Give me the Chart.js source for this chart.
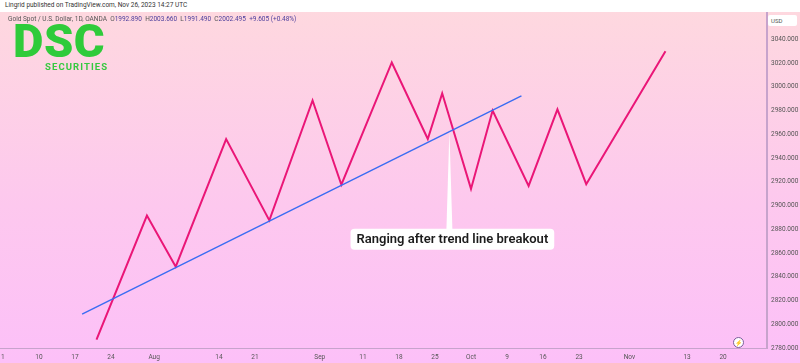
<!DOCTYPE html>
<html>
<head>
  <title>Gold Spot / U.S. Dollar</title>
  <script src="https://cdn.jsdelivr.net/npm/chart.js"></script>
  <style>
    body {
      margin: 0;
      width: 800px;
      height: 363px;
      overflow: hidden;
      background: #fff;
      font-family: Roboto, "Noto Sans", sans-serif;
    }
    #published {
      position: absolute;
      left: 5px;
      top: 1px;
      font-size: 6.5px;
      color: #333;
    }
    .pane {
      position: absolute;
      left: 0;
      top: 12px;
      width: 800px;
      height: 351px;
      background: linear-gradient(to bottom, #fed8df 0%, #fdc8ee 55%, #fcc0f8 100%);
    }
    #chartBox {
      position: absolute;
      left: 0;
      top: 0;
      width: 800px;
      height: 351px;
    }
    #legend {
      position: absolute;
      left: 8px;
      top: 3px;
      font-size: 6.5px;
      color: #555;
      white-space: nowrap;
    }
    #legend b { font-weight: normal; color: #4b3d9c; }
    #logo {
      position: absolute;
      left: 13px;
      top: 5px;
      color: #2fcb3a;
      font-weight: 900;
      font-size: 47px;
      letter-spacing: 0.5px;
      line-height: 47px;
      font-family: Roboto, sans-serif;
    }
    #logoSub {
      position: absolute;
      left: 45px;
      top: 49px;
      color: #36c93f;
      font-weight: 700;
      font-size: 9.5px;
      letter-spacing: 1.1px;
      font-family: Roboto, sans-serif;
    }
    #usd {
      position: absolute;
      left: 768px;
      top: 3px;
      width: 29px;
      height: 11px;
      background: #fff;
      border-radius: 2px;
      font-size: 6px;
      color: #555;
      line-height: 11px;
      padding-left: 3px;
      box-sizing: border-box;
    }
    #icon {
      position: absolute;
      left: 733px;
      top: 325px;
      width: 9px;
      height: 9px;
      border: 1px solid #7a5c9a;
      border-radius: 50%;
      background: #fff;
      font-size: 6px;
      line-height: 9px;
      text-align: center;
      color: #6a4c8a;
    }
  </style>
</head>
<body>
  <div id="published">Lingrid published on TradingView.com, Nov 26, 2023 14:27 UTC</div>
  <div class="pane">
    <div id="chartBox"><canvas id="goldChart" width="800" height="351"></canvas></div>
    <div id="legend">Gold Spot / U.S. Dollar, 1D, OANDA &nbsp;O<b>1992.890</b> &nbsp;H<b>2003.660</b> &nbsp;L<b>1991.490</b> &nbsp;C<b>2002.495</b> &nbsp;<b>+9.605 (+0.48%)</b></div>
    <div id="logo">DSC</div>
    <div id="logoSub">SECURITIES</div>
    <div id="usd">USD</div>
    <div id="icon">&#x26A1;</div>
  </div>

  <script>
    // x values are trading-day indexes counted from Mon 3 Jul
    const swingDays   = [13, 20, 24, 31, 37, 43, 47, 54, 59, 61, 65, 68, 73, 77, 81, 92];
    const swingPrices = [2787, 2891.5, 2848.5, 2956, 2887.5, 2988.5, 2917.5, 3020.5, 2956, 2994.5, 2914, 2980, 2916.5, 2981, 2918, 3030];

    const trendDays   = [11, 72];
    const trendPrices = [2808.5, 2992.3];

    const tickDays   = [0, 5, 10, 15, 21, 30, 35, 44, 50, 55, 60, 65, 70, 75, 80, 87, 95, 100];
    const tickLabels = ['1', '10', '17', '24', 'Aug', '14', '21', 'Sep', '11', '18', '25', 'Oct', '9', '16', '23', 'Nov', '13', '20'];

    const priceTicks = [3040, 3020, 3000, 2980, 2960, 2940, 2920, 2900, 2880, 2860, 2840, 2820, 2800, 2780];

    const calloutText  = 'Ranging after trend line breakout';
    const calloutTip   = { day: 62, price: 2963 };
    const calloutPrice = 2871.5;

    // white speech-bubble label pointing at the trend line break
    const calloutPlugin = {
      id: 'callout',
      afterDatasetsDraw(chart) {
        const { ctx, scales } = chart;
        const tipX = scales.x.getPixelForValue(calloutTip.day);
        const tipY = scales.y.getPixelForValue(calloutTip.price);
        const midY = scales.y.getPixelForValue(calloutPrice);
        ctx.save();
        ctx.font = '600 13px Roboto, sans-serif';
        const w = ctx.measureText(calloutText).width + 12;
        const h = 21;
        const left = tipX + 3 - w / 2;
        const top = midY - h / 2;
        ctx.fillStyle = '#ffffff';
        ctx.beginPath();
        ctx.moveTo(tipX - 3, top + 1);
        ctx.lineTo(tipX, tipY);
        ctx.lineTo(tipX + 3, top + 1);
        ctx.closePath();
        ctx.fill();
        ctx.beginPath();
        ctx.roundRect(left, top, w, h, 4);
        ctx.fill();
        ctx.fillStyle = '#1c1c1c';
        ctx.textBaseline = 'middle';
        ctx.fillText(calloutText, left + 6, midY + 0.5);
        ctx.restore();
      }
    };

    new Chart(document.getElementById('goldChart'), {
      type: 'line',
      data: {
        datasets: [
          {
            label: 'Trend line',
            data: trendDays.map((d, i) => ({ x: d, y: trendPrices[i] })),
            borderColor: '#3a6cf2',
            borderWidth: 1.4,
            pointRadius: 0
          },
          {
            label: 'Price',
            data: swingDays.map((d, i) => ({ x: d, y: swingPrices[i] })),
            borderColor: '#ea1677',
            borderWidth: 2,
            pointRadius: 0,
            tension: 0
          }
        ]
      },
      options: {
        responsive: false,
        animation: false,
        layout: { padding: 0 },
        plugins: {
          legend: { display: false },
          tooltip: { enabled: false }
        },
        scales: {
          x: {
            type: 'linear',
            min: -0.4,
            max: 106.1,
            grid: { display: false, drawTicks: false },
            border: { display: true, color: '#c7a3cc', width: 1 },
            afterBuildTicks(axis) {
              axis.ticks = tickDays.map(v => ({ value: v }));
            },
            afterFit(axis) {
              axis.height = 15;
              axis.paddingLeft = 0;
              axis.paddingRight = 0;
            },
            ticks: {
              autoSkip: false,
              maxRotation: 0,
              padding: 5,
              font: { size: 6.5, family: 'Roboto' },
              color: '#555',
              callback: (v) => tickLabels[tickDays.indexOf(v)] ?? ''
            }
          },
          y: {
            position: 'right',
            min: 2780,
            max: 3063,
            grid: { display: false, drawTicks: false },
            border: { display: true, color: '#c7a3cc', width: 2 },
            afterBuildTicks(axis) {
              axis.ticks = priceTicks.map(v => ({ value: v }));
            },
            afterFit(axis) {
              axis.width = 33;
              axis.paddingTop = 0;
              axis.paddingBottom = 0;
            },
            ticks: {
              padding: 4,
              font: { size: 6.5, family: 'Roboto' },
              color: '#555',
              callback: (v) => v.toFixed(3)
            }
          }
        }
      },
      plugins: [calloutPlugin]
    });
  </script>
</body>
</html>
